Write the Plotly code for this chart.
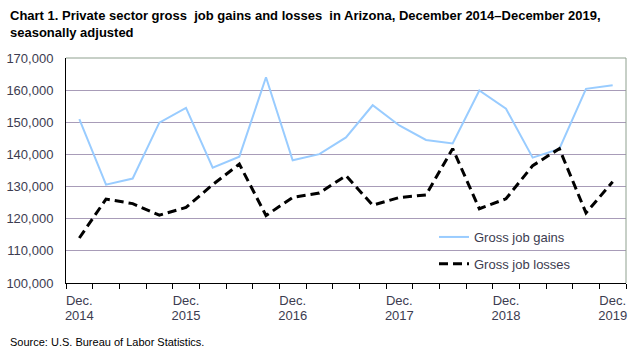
import plotly.graph_objects as go

periods = ["Dec. 2014", "Mar. 2015", "Jun. 2015", "Sep. 2015", "Dec. 2015", "Mar. 2016", "Jun. 2016",
           "Sep. 2016", "Dec. 2016", "Mar. 2017", "Jun. 2017", "Sep. 2017", "Dec. 2017", "Mar. 2018",
           "Jun. 2018", "Sep. 2018", "Dec. 2018", "Mar. 2019", "Jun. 2019", "Sep. 2019", "Dec. 2019"]
gains = [151000, 130600, 132500, 149900, 154500, 135900, 139300, 164000, 138200, 140100, 145300,
         155300, 149000, 144500, 143400, 159900, 154200, 139000, 141700, 160400, 161500]
losses = [114000, 126100, 124700, 121100, 123500, 130600, 137000, 121000, 126600, 128000, 133400,
          124200, 126600, 127400, 141800, 123100, 126200, 136500, 141800, 121800, 131500]
tick_idx = [0, 4, 8, 12, 16, 20]
tick_months = ["Dec.", "Dec.", "Dec.", "Dec.", "Dec.", "Dec."]
tick_years = ["2014", "2015", "2016", "2017", "2018", "2019"]

xs = list(range(len(periods)))
W, H = 642, 350
L, R, T, B = 66, 16, 58, 67
PW, PH = W - L - R, H - T - B

fig = go.Figure()
fig.add_trace(go.Scatter(x=xs, y=gains, mode="lines", name="Gross job gains",
                         line=dict(color="#99CCFF", width=2), legendgroup="g"))
fig.add_trace(go.Scatter(x=xs, y=losses, mode="lines", name="Gross job losses",
                         line=dict(color="#000000", width=3, dash="9px,5px"), legendgroup="l"))
fig.add_trace(go.Scatter(x=[], y=[], xaxis="x2", showlegend=False, hoverinfo="skip"))

tickfont = dict(family="Liberation Sans, Arial", size=13, color="#3c3c50")
xrange = [-0.5, len(periods) - 0.5]
fig.update_layout(
    width=W, height=H, autosize=False,
    margin=dict(l=L, r=R, t=T, b=B),
    paper_bgcolor="white", plot_bgcolor="white",
    showlegend=True,
    legend=dict(x=(434 - L) / PW, y=(H - B - 222) / PH, xanchor="left", yanchor="top",
                bgcolor="rgba(0,0,0,0)", font=tickfont, tracegroupgap=7, traceorder="grouped"),
    xaxis=dict(range=xrange, tickmode="array", tickvals=tick_idx, ticktext=tick_months,
               ticks="", showgrid=False, zeroline=False, showline=True, linecolor="black", linewidth=1,
               tickfont=tickfont, ticklabelstandoff=5, automargin=False,
               minor=dict(tick0=-0.5, dtick=1, ticks="outside", ticklen=5, tickcolor="black", tickwidth=1,
                          showgrid=False)),
    xaxis2=dict(range=xrange, overlaying="x", anchor="y", side="bottom", tickmode="array",
                tickvals=tick_idx, ticktext=tick_years, ticks="", showgrid=False, zeroline=False,
                showline=False, tickfont=tickfont, ticklabelstandoff=23, automargin=False),
    yaxis=dict(range=[100000, 170000], dtick=10000, tickformat=",", showgrid=True, gridcolor="#A89CB8",
               gridwidth=1, zeroline=False, showline=True, linecolor="black", linewidth=1,
               ticks="", tickfont=tickfont, ticklabelstandoff=9, automargin=False),
    shapes=[
        dict(type="line", xref="paper", yref="paper", x0=0, x1=1, y0=1, y1=1,
             line=dict(color="#8FA08F", width=1)),
        dict(type="line", xref="paper", yref="paper", x0=1, x1=1, y0=0, y1=1,
             line=dict(color="#8FA08F", width=1)),
    ],
    annotations=[
        dict(text="<b>Chart 1. Private sector gross  job gains and losses  in Arizona, December 2014–December 2019,<br>seasonally adjusted</b>",
             xref="paper", yref="paper", x=(8 - L) / PW, y=(H - B - 6) / PH,
             xanchor="left", yanchor="top", align="left", showarrow=False,
             font=dict(family="Liberation Sans Narrow, Arial Narrow, Liberation Sans", size=13, color="#000000")),
        dict(text="Source: U.S. Bureau of Labor Statistics.",
             xref="paper", yref="paper", x=(8 - L) / PW, y=(H - B - 342) / PH,
             xanchor="left", yanchor="middle", align="left", showarrow=False,
             font=dict(family="Liberation Sans Narrow, Arial Narrow, Liberation Sans", size=11, color="#000000")),
    ],
)

fig.write_html("out.html")
